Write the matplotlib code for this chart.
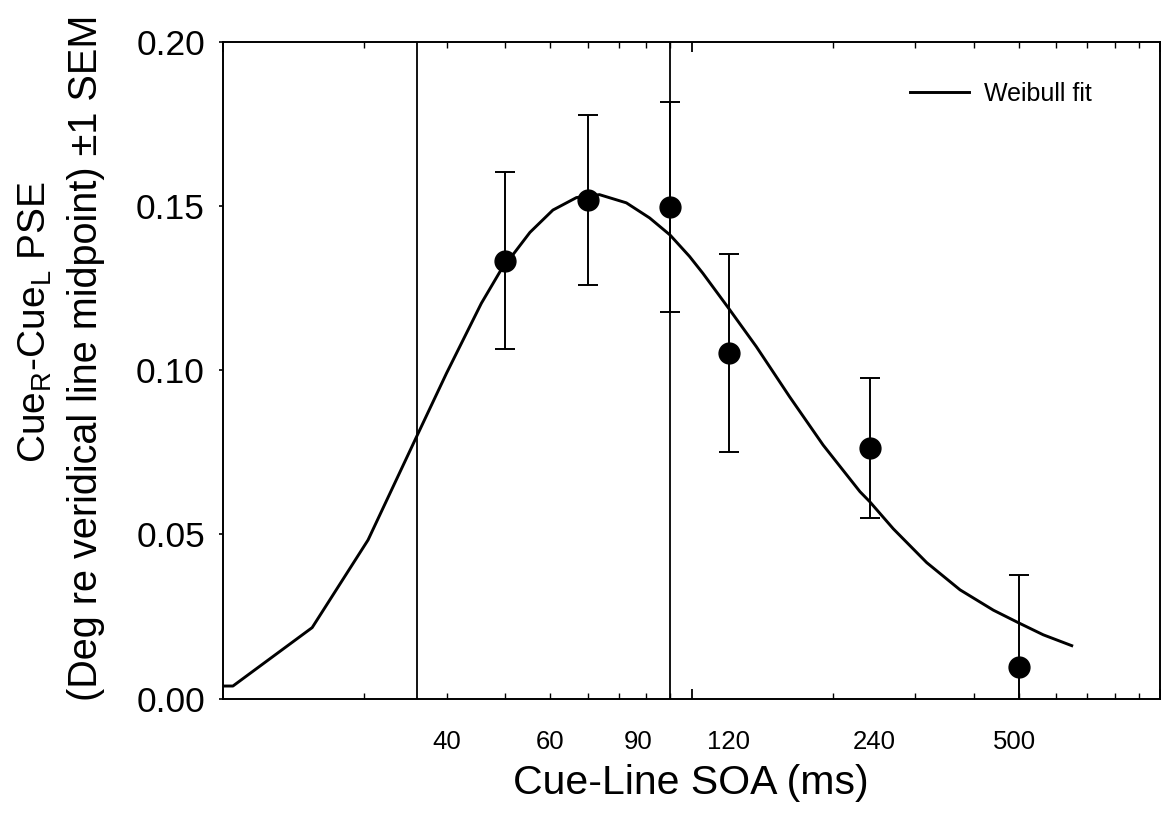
import matplotlib
matplotlib.use("Agg")
import matplotlib.pyplot as plt
from matplotlib.ticker import LogLocator, NullFormatter, FixedLocator

plt.rcParams['font.family'] = ['Liberation Sans', 'DejaVu Sans']
plt.rcParams['mathtext.fontset'] = 'custom'
plt.rcParams['mathtext.rm'] = 'Liberation Sans'
plt.rcParams['mathtext.it'] = 'Liberation Sans:italic'
plt.rcParams['mathtext.default'] = 'regular'

# ---- data ----
soa = [40, 60, 90, 120, 240, 500]
pse = [0.1334, 0.1519, 0.1496, 0.1052, 0.0764, 0.0095]
sem = [0.0269, 0.0260, 0.0320, 0.0302, 0.0213, 0.0280]

fit_x = [10, 10.5, 15.5, 20.4, 25.9, 30, 35.6, 39, 45.2, 50.6, 56.8, 63.6, 72.6,
         81.4, 90, 99, 105.8, 120, 137.5, 146.8, 162, 191, 228.9, 240, 269.6,
         317.7, 374.3, 441, 500, 563.5, 648]
fit_y = [0.0038, 0.0038, 0.0216, 0.0483, 0.0798, 0.0991, 0.1204, 0.1300, 0.1420,
         0.1488, 0.1526, 0.1535, 0.1510, 0.1464, 0.1412, 0.1347, 0.1295, 0.1189,
         0.1072, 0.1011, 0.0919, 0.0772, 0.0630, 0.0600, 0.0517, 0.0414, 0.0331,
         0.0269, 0.0230, 0.0194, 0.0161]

vline_x = [26, 90]

xtick_text = ['40', '60', '90', '120', '240', '500']
xtick_pos = [30.0, 50.0, 77.0, 119.7, 246, 489]

yticks = [0.00, 0.05, 0.10, 0.15, 0.20]

W, H = 1162, 826
fig = plt.figure(figsize=(W / 100, H / 100), dpi=100)
ax = fig.add_axes([223 / W, 1 - 698.5 / H, (1160 - 223) / W, (698.5 - 42) / H])

ax.set_xscale('log')
ax.set_xlim(10, 1000)
ax.set_ylim(0, 0.20)

for vx in vline_x:
    ax.axvline(vx, color='black', lw=1.3, zorder=1)

ax.plot(fit_x, fit_y, color='black', lw=2.1, label='Weibull fit', zorder=2,
        solid_joinstyle='round')
ax.errorbar(soa, pse, yerr=sem, fmt='o', color='black', ms=15, elinewidth=1.4,
            capsize=7, capthick=1.4, zorder=3, clip_on=True)

# axes styling
for s in ax.spines.values():
    s.set_linewidth(1.4)
ax.xaxis.set_major_locator(LogLocator(base=10, numticks=10))
ax.xaxis.set_minor_locator(LogLocator(base=10, subs=[2, 3, 4, 5, 6, 7, 8, 9], numticks=20))
ax.xaxis.set_major_formatter(NullFormatter())
ax.xaxis.set_minor_formatter(NullFormatter())
ax.tick_params(axis='x', which='major', direction='in', length=7.5, width=1.3,
               top=True, bottom=True)
ax.tick_params(axis='x', which='minor', direction='in', length=4.5, width=1.0,
               top=True, bottom=True)

ax.yaxis.set_major_locator(FixedLocator(yticks))
ax.set_yticklabels([f'{v:.2f}' for v in yticks])
ax.tick_params(axis='y', which='major', direction='out', length=3, width=1.2,
               left=True, right=False, labelsize=25.5, pad=10)
ax.tick_params(axis='y', which='minor', left=False, right=False)

# custom x labels
for t, p in zip(xtick_text, xtick_pos):
    ax.text(p, -0.0663, t, ha='center', va='center', fontsize=18.5,
            transform=ax.get_xaxis_transform())

fig.text(691 / W, 1 - 783 / H, 'Cue-Line SOA (ms)', ha='center', va='center',
         fontsize=29.5)
fig.text(35 / W, 1 - 322 / H, 'Cue$_{R}$-Cue$_{L}$ PSE', ha='center', va='center',
         fontsize=28, rotation=90)
fig.text(86 / W, 1 - 358 / H, '(Deg re veridical line midpoint) \u00b11 SEM',
         ha='center', va='center', fontsize=28.5, rotation=90)

ax.legend(loc='center left', bbox_to_anchor=(910 / W, 1 - 94 / H),
          bbox_transform=fig.transFigure, frameon=False, fontsize=18,
          handlelength=2.35, handletextpad=0.62, borderpad=0, borderaxespad=0)

fig.savefig('out.png', dpi=100)
